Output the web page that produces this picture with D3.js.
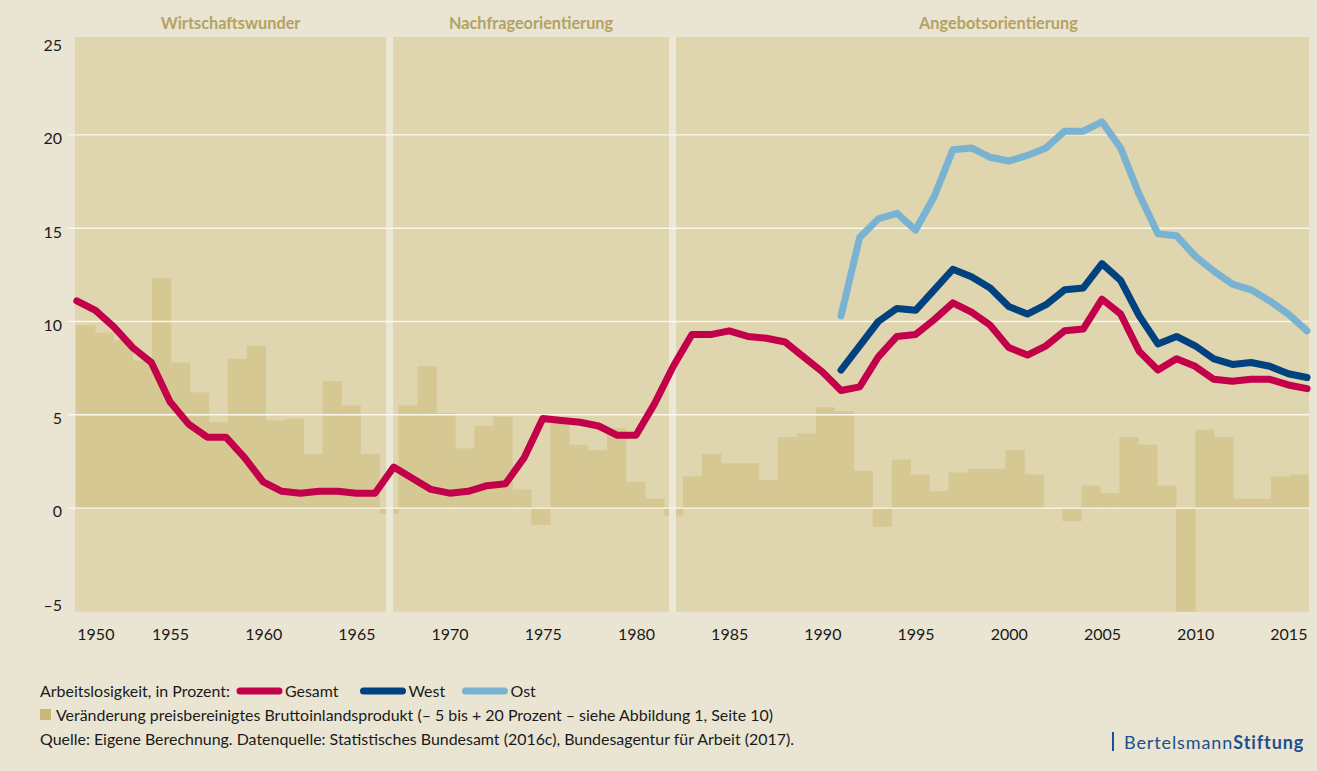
<!DOCTYPE html>
<html>
<head>
<meta charset="utf-8">
<script src="https://cdn.jsdelivr.net/npm/d3@7"></script>
<style>
    html, body { margin: 0; padding: 0; background: #e9e5d2; }
    svg { display: block; font-family: Lato, "Open Sans", sans-serif; }
</style>
</head>
<body>
<svg id="chart" width="1317" height="771"></svg>
<script>

// Arbeitslosigkeit, in Prozent
var yearsGesamt = d3.range(1950, 2017);
var gesamt = [11.1, 10.6, 9.7, 8.6, 7.8, 5.7, 4.5, 3.8, 3.8, 2.7,
    1.4, 0.9, 0.8, 0.9, 0.9, 0.8, 0.8, 2.2, 1.6, 1.0,
    0.8, 0.9, 1.2, 1.3, 2.7, 4.8, 4.7, 4.6, 4.4, 3.9,
    3.9, 5.6, 7.6, 9.3, 9.3, 9.5, 9.2, 9.1, 8.9, 8.1,
    7.3, 6.3, 6.5, 8.1, 9.2, 9.3, 10.1, 11.0, 10.5, 9.8,
    8.6, 8.2, 8.7, 9.5, 9.6, 11.2, 10.4, 8.4, 7.4, 8.0,
    7.6, 6.9, 6.8, 6.9, 6.9, 6.6, 6.4];

var yearsOstWest = d3.range(1991, 2017);
var west = [7.4, 8.7, 10.0, 10.7, 10.6, 11.7, 12.8, 12.4, 11.8, 10.8,
    10.4, 10.9, 11.7, 11.8, 13.1, 12.2, 10.3, 8.8, 9.2, 8.7,
    8.0, 7.7, 7.8, 7.6, 7.2, 7.0];
var ost = [10.3, 14.5, 15.5, 15.8, 14.9, 16.7, 19.2, 19.3, 18.8, 18.6,
    18.9, 19.3, 20.2, 20.2, 20.7, 19.3, 16.8, 14.7, 14.6, 13.5,
    12.7, 12.0, 11.7, 11.1, 10.4, 9.5];

// Veraenderung preisbereinigtes BIP
var yearsBip = d3.range(1951, 2016);
var bip = [9.8, 9.4, 9.0, 7.9, 12.3, 7.8, 6.2, 4.6, 8.0, 8.7,
    4.7, 4.8, 2.9, 6.8, 5.5, 2.9, -0.3, 5.5, 7.6, 5.1,
    3.2, 4.4, 4.9, 1.0, -0.9, 4.9, 3.4, 3.1, 4.3, 1.4,
    0.5, -0.4, 1.7, 2.9, 2.4, 2.4, 1.5, 3.8, 4.0, 5.4,
    5.2, 2.0, -1.0, 2.6, 1.8, 0.9, 1.9, 2.1, 2.1, 3.1,
    1.8, 0.0, -0.7, 1.2, 0.8, 3.8, 3.4, 1.2, -5.6, 4.2,
    3.8, 0.5, 0.5, 1.7, 1.8];

// Phasen
var eraNames = ["Wirtschaftswunder", "Nachfrageorientierung", "Angebotsorientierung"];
var eraFrom = [1949.9, 1966.97, 1982.15];
var eraTo = [1966.6, 1981.77, 2016.1];

var yTicks = [-5, 0, 5, 10, 15, 20, 25];
var gridTicks = [0, 5, 10, 15, 20];
var xTicks = [1950, 1955, 1960, 1965, 1970, 1975, 1980, 1985, 1990, 1995, 2000, 2005, 2010, 2015];

var colors = {
    page: "#e9e5d2",
    panel: "#dfd5ae",
    gap: "#ece8d8",
    bar: "#d6c892",
    era: "#b3a262",
    gesamt: "#c3004a",
    west: "#00427f",
    ost: "#7ab3d1",
    text: "#1a1a1a",
    logo: "#1e4f8e"
};

var svg = d3.select("#chart");

var x = d3.scaleLinear().domain([1950, 2016]).range([76.8, 1307]);
var xBar = d3.scaleBand().domain(yearsBip).range([76, 1309]).padding(0);
var y = d3.scaleLinear().domain([0, 20]).range([508.1, 134.9]);

var plotTop = 37, plotBottom = 611.7;

svg.append("rect")
    .attr("width", 1317)
    .attr("height", 771)
    .attr("fill", colors.page);

// Panel-Hintergrund
svg.append("rect")
    .attr("x", x(eraFrom[0]))
    .attr("y", plotTop)
    .attr("width", x(eraTo[2]) - x(eraFrom[0]))
    .attr("height", plotBottom - plotTop)
    .attr("fill", colors.panel);

svg.append("clipPath")
    .attr("id", "plotClip")
    .append("rect")
        .attr("x", x(eraFrom[0]))
        .attr("y", plotTop)
        .attr("width", x(eraTo[2]) - x(eraFrom[0]))
        .attr("height", plotBottom - plotTop);

// BIP-Balken
svg.append("g")
    .attr("clip-path", "url(#plotClip)")
    .selectAll("rect")
    .data(yearsBip)
    .enter()
    .append("rect")
        .attr("x", function (d) { return xBar(d); })
        .attr("width", xBar.bandwidth() + 0.3)
        .attr("y", function (d, i) { return Math.min(y(bip[i]), y(0)); })
        .attr("height", function (d, i) { return Math.abs(y(bip[i]) - y(0)); })
        .attr("fill", colors.bar);

// Luecken zwischen den Phasen
for (var i = 0; i < eraNames.length - 1; i++) {
    svg.append("rect")
        .attr("x", x(eraTo[i]))
        .attr("y", plotTop)
        .attr("width", x(eraFrom[i + 1]) - x(eraTo[i]))
        .attr("height", plotBottom - plotTop)
        .attr("fill", colors.gap);
}

// Gitterlinien
svg.append("g")
    .selectAll("line")
    .data(gridTicks)
    .enter()
    .append("line")
        .attr("x1", 68)
        .attr("x2", x(eraTo[2]))
        .attr("y1", function (d) { return y(d); })
        .attr("y2", function (d) { return y(d); })
        .attr("stroke", "#fbf8ee")
        .attr("stroke-width", 1.4);

// Phasen-Titel
svg.append("g")
    .selectAll("text")
    .data(eraNames)
    .enter()
    .append("text")
        .attr("x", function (d, i) { return (x(eraFrom[i]) + x(eraTo[i])) / 2 + (i == 2 ? 6 : 0); })
        .attr("y", 29)
        .attr("text-anchor", "middle")
        .attr("font-size", 16.3)
        .attr("font-weight", 700)
        .attr("fill", colors.era)
        .text(function (d) { return d; });

// y-Achse
var yAxis = svg.append("g")
    .attr("transform", "translate(62,0)")
    .call(d3.axisLeft(y)
        .tickValues(yTicks)
        .tickSize(0)
        .tickPadding(0)
        .tickFormat(function (d) { return d < 0 ? "\u2013" + Math.abs(d) : d; }));

yAxis.select(".domain").remove();
yAxis.selectAll("text")
    .attr("font-family", "Lato, sans-serif")
    .attr("font-size", 16)
    .attr("fill", colors.text)
    .attr("dy", "0.55em");

// x-Achse
var xAxis = svg.append("g")
    .attr("transform", "translate(0,640)")
    .call(d3.axisBottom(x)
        .tickValues(xTicks)
        .tickSize(0)
        .tickPadding(0)
        .tickFormat(d3.format("d")));

xAxis.select(".domain").remove();
xAxis.selectAll("text")
    .attr("font-family", "Lato, sans-serif")
    .attr("font-size", 16)
    .attr("fill", colors.text)
    .attr("dy", 0)
    .attr("text-anchor", function (d, i) { return i == 0 ? "start" : "middle"; });

// Linien
var line = d3.line()
    .x(function (d) { return x(d[0]); })
    .y(function (d) { return y(d[1]); });

var series = [
    { values: d3.zip(yearsGesamt, gesamt), color: colors.gesamt },
    { values: d3.zip(yearsOstWest, west), color: colors.west },
    { values: d3.zip(yearsOstWest, ost), color: colors.ost }
];

svg.append("g")
    .selectAll("path")
    .data(series)
    .enter()
    .append("path")
        .attr("d", function (d) { return line(d.values); })
        .attr("fill", "none")
        .attr("stroke", function (d) { return d.color; })
        .attr("stroke-width", 7)
        .attr("stroke-linejoin", "round")
        .attr("stroke-linecap", "round");

// Legende
var legend = svg.append("g")
    .attr("fill", colors.text);

// Schriftgroesse aus der Quellenzeile ableiten, damit alle Zeilen gleich gross sind
var source = legend.append("text")
    .attr("x", 40)
    .attr("y", 745)
    .attr("font-size", 15)
    .text("Quelle: Eigene Berechnung. Datenquelle: Statistisches Bundesamt (2016c), Bundesagentur für Arbeit (2017).");
var fontSize = 15 * 755 / source.node().getComputedTextLength();
source.attr("font-size", fontSize);
legend.attr("font-size", fontSize);

legend.append("text")
    .attr("x", 40)
    .attr("y", 697)
    .attr("font-size", fontSize)
    .text("Arbeitslosigkeit, in Prozent:");

var legendItems = [
    { label: "Gesamt", color: colors.gesamt, x: 240 },
    { label: "West", color: colors.west, x: 363.5 },
    { label: "Ost", color: colors.ost, x: 465.5 }
];

legendItems.forEach(function (item) {
    legend.append("line")
        .attr("x1", item.x)
        .attr("x2", item.x + 39)
        .attr("y1", 691)
        .attr("y2", 691)
        .attr("stroke", item.color)
        .attr("stroke-width", 7)
        .attr("stroke-linecap", "round");
    legend.append("text")
        .attr("x", item.x + 45)
        .attr("y", 697)
        .attr("font-size", fontSize)
        .text(item.label);
});

legend.append("rect")
    .attr("x", 40)
    .attr("y", 709)
    .attr("width", 11)
    .attr("height", 11)
    .attr("fill", "#cbb97a");

legend.append("text")
    .attr("x", 56)
    .attr("y", 721)
    .attr("font-size", fontSize)
    .text("Veränderung preisbereinigtes Bruttoinlandsprodukt (\u2013 5 bis + 20 Prozent \u2013 siehe Abbildung 1, Seite 10)");

// Logo
svg.append("rect")
    .attr("x", 1112)
    .attr("y", 732)
    .attr("width", 2)
    .attr("height", 19)
    .attr("fill", colors.logo);

var logo = svg.append("text")
    .attr("x", 1124)
    .attr("y", 749)
    .attr("font-size", 18)
    .attr("letter-spacing", 0.9)
    .attr("fill", colors.logo);
logo.append("tspan").text("Bertelsmann");
logo.append("tspan").attr("font-weight", 700).text("Stiftung");

</script>
</body>
</html>
